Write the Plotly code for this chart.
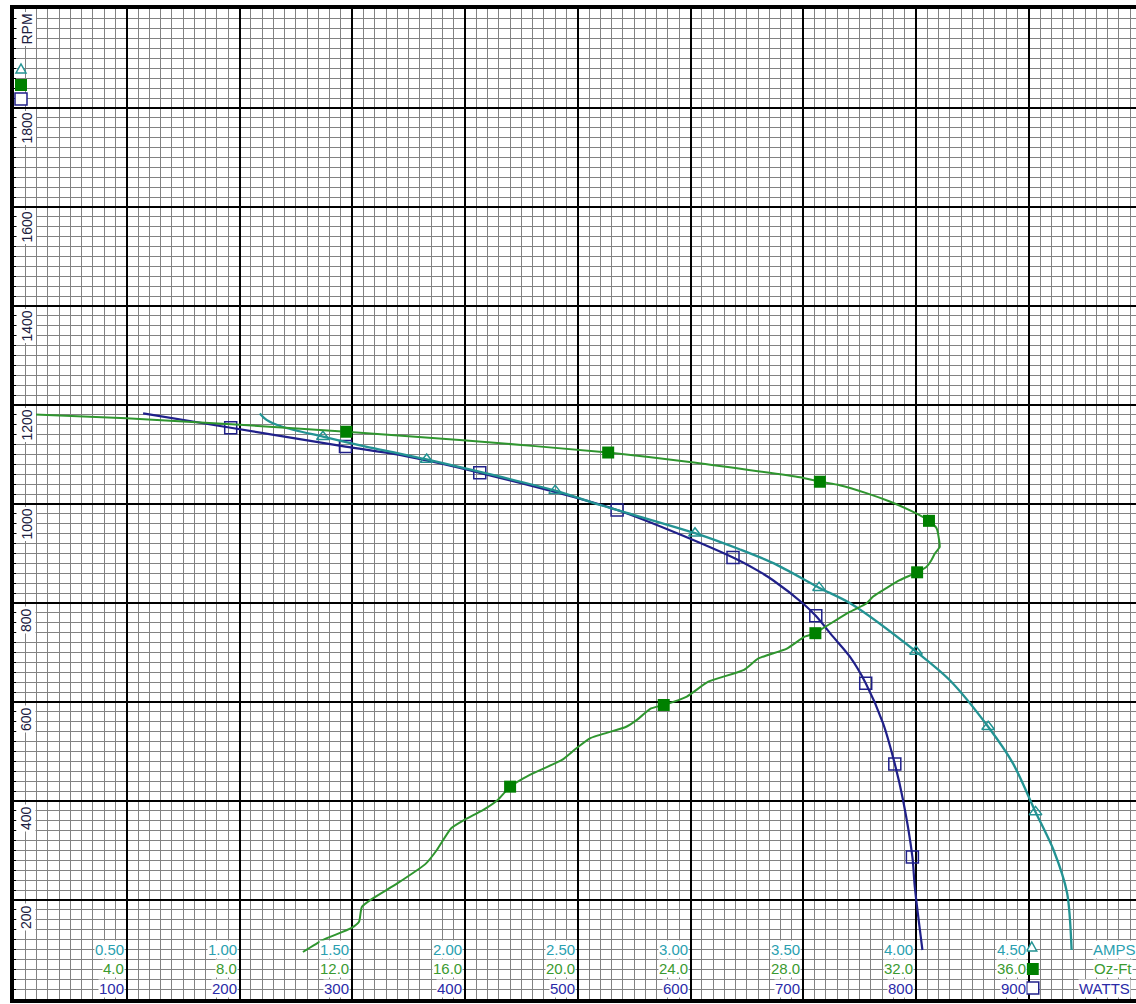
import plotly.graph_objects as go

# ---------------- tick labels ----------------
rpm_tick_vals = [2000, 1800, 1600, 1400, 1200, 1000, 800, 600, 400, 200]
rpm_tick_text = ["RPM", "1800", "1600", "1400", "1200", "1000", "800", "600", "400", "200"]

amps_tick_vals = [0.5, 1.0, 1.5, 2.0, 2.5, 3.0, 3.5, 4.0, 4.5]
amps_tick_text = ["0.50", "1.00", "1.50", "2.00", "2.50", "3.00", "3.50", "4.00", "4.50"]

ozft_tick_vals = [4, 8, 12, 16, 20, 24, 28, 32, 36]
ozft_tick_text = ["4.0", "8.0", "12.0", "16.0", "20.0", "24.0", "28.0", "32.0", "36.0"]

watts_tick_vals = [100, 200, 300, 400, 500, 600, 700, 800, 900]
watts_tick_text = ["100", "200", "300", "400", "500", "600", "700", "800", "900"]

series_names = ["AMPS", "Oz-Ft", "WATTS"]

# ---------------- Oz-Ft (torque) curve ----------------
ozft_curve_val = [0.74, 3.99, 8.01, 11.79, 15.93, 21.08, 23.97, 27.88, 28.59, 29.29, 30.24, 31.07,
                  31.90, 32.46, 32.73, 32.82, 32.84, 32.67, 32.55, 32.37, 32.04, 31.42, 30.95, 30.48,
                  30.24, 29.65, 29.18, 28.70, 28.43, 28.05, 27.42, 26.41, 25.90, 24.63, 23.87, 23.05,
                  22.60, 22.10, 21.72, 20.45, 19.94, 19.44, 18.30, 17.60, 17.16, 16.65, 15.98, 15.51,
                  15.00, 14.62, 13.61, 12.72, 12.34, 12.24, 11.96, 10.95, 10.25]
ozft_curve_rpm = [1181, 1173, 1160, 1146, 1129, 1104, 1085, 1054, 1045, 1038, 1022, 1005,
                  984, 966, 951, 927, 913, 900, 887, 873, 862, 846, 830, 813,
                  799, 782, 766, 749, 739, 732, 708, 688, 665, 641, 611, 594,
                  587, 564, 550, 527, 506, 483, 453, 429, 402, 382, 362, 345,
                  301, 274, 234, 203, 186, 156, 143, 119, 95]
ozft_mark_val = [11.79, 21.08, 28.59, 32.46, 32.04, 28.43, 23.05, 17.60]
ozft_mark_rpm = [1146, 1104, 1045, 966, 862, 739, 594, 429]

# ---------------- AMPS curve ----------------
amps_curve_val = [1.09, 1.12, 1.19, 1.37, 1.56, 1.71, 1.83, 2.40, 2.60, 3.02, 3.22, 3.37,
                  3.57, 3.71, 4.00, 4.15, 4.32, 4.43, 4.53, 4.61, 4.67, 4.69]
amps_curve_rpm = [1183, 1170, 1156, 1136, 1116, 1102, 1090, 1027, 998, 941, 908, 880,
                  831, 799, 702, 644, 550, 476, 378, 301, 214, 99]
amps_mark_val = [1.37, 1.83, 2.40, 3.02, 3.57, 4.00, 4.32, 4.53]
amps_mark_rpm = [1136, 1090, 1027, 941, 831, 702, 550, 378]

# ---------------- WATTS curve ----------------
watts_curve_val = [114.5, 192.2, 294.0, 342.1, 413.1, 534.9, 637.7, 658.5, 673.2, 699.8, 711.1,
                   726.4, 741.2, 755.4, 770.8, 781.2, 788.5, 796.8, 798.9, 805.7]
watts_curve_rpm = [1183, 1154, 1116, 1099, 1063, 988, 892, 867, 846, 799, 774,
                   732, 692, 638, 557, 475, 402, 287, 227, 99]
watts_mark_val = [192.2, 294.0, 413.1, 534.9, 637.7, 711.1, 755.4, 781.2, 796.8]
watts_mark_rpm = [1154, 1116, 1063, 988, 892, 774, 638, 475, 287]

# ---------------- styling ----------------
FONT = "Liberation Sans, Arial, Helvetica, sans-serif"
C_AMPS_LINE = "#239393"
C_OZ_LINE = "#2f962f"
C_OZ_MARK = "#008000"
C_W_LINE = "#20208a"
C_AMPS_TXT = "#2a9fb0"
C_OZ_TXT = "#3a9a30"
C_W_TXT = "#2a2aa8"
C_RPM_TXT = "#202040"
C_MINOR = "#828282"

W_MAX = 995.12          # watts axis range shown (plot cut at right edge)
A_MAX = W_MAX / 200.0   # amps axis: 0.5 A per 100 W division
O_MAX = W_MAX / 25.0    # oz-ft axis: 4 oz-ft per 100 W division

fig = go.Figure()

fig.add_trace(go.Scatter(x=ozft_curve_val, y=ozft_curve_rpm, xaxis="x3", yaxis="y", mode="lines",
                         line=dict(color=C_OZ_LINE, width=2, shape="spline", smoothing=0.5),
                         showlegend=False, hoverinfo="skip"))
fig.add_trace(go.Scatter(x=amps_curve_val, y=amps_curve_rpm, xaxis="x2", yaxis="y", mode="lines",
                         line=dict(color=C_AMPS_LINE, width=2.3, shape="spline", smoothing=0.8),
                         showlegend=False, hoverinfo="skip"))
fig.add_trace(go.Scatter(x=watts_curve_val, y=watts_curve_rpm, xaxis="x", yaxis="y", mode="lines",
                         line=dict(color=C_W_LINE, width=2.2, shape="spline", smoothing=0.8),
                         showlegend=False, hoverinfo="skip"))

fig.add_trace(go.Scatter(x=ozft_mark_val, y=ozft_mark_rpm, xaxis="x3", yaxis="y", mode="markers",
                         marker=dict(symbol="square", size=12, color=C_OZ_MARK, line=dict(width=0)),
                         name="Oz-Ft", showlegend=False))
fig.add_trace(go.Scatter(x=amps_mark_val, y=amps_mark_rpm, xaxis="x2", yaxis="y", mode="markers",
                         marker=dict(symbol="triangle-up-open", size=11, color=C_AMPS_LINE,
                                     line=dict(width=1.5, color=C_AMPS_LINE)),
                         name="AMPS", showlegend=False))
fig.add_trace(go.Scatter(x=watts_mark_val, y=watts_mark_rpm, xaxis="x", yaxis="y", mode="markers",
                         marker=dict(symbol="square-open", size=12, color=C_W_LINE,
                                     line=dict(width=1.5, color=C_W_LINE)),
                         name="WATTS", showlegend=False))

annotations = []
# RPM labels (rotated, inside the plot, below each major line)
for v, t in zip(rpm_tick_vals, rpm_tick_text):
    annotations.append(dict(x=0, xref="x", y=v, yref="y", text=t, textangle=-90, showarrow=False,
                            xanchor="left", yanchor="top", xshift=2, yshift=-3,
                            bgcolor="white", borderpad=1,
                            font=dict(family=FONT, size=14, color=C_RPM_TXT)))

rows = [
    ("x2", amps_tick_vals, amps_tick_text, C_AMPS_TXT, 50),
    ("x3", ozft_tick_vals, ozft_tick_text, C_OZ_TXT, 31),
    ("x", watts_tick_vals, watts_tick_text, C_W_TXT, 11),
]
for xref, vals, texts, col, ysh in rows:
    for v, t in zip(vals, texts):
        annotations.append(dict(x=v, xref=xref, y=0, yref="y", text=t, showarrow=False,
                                xanchor="right", yanchor="middle", xshift=-2, yshift=ysh,
                                bgcolor="white", borderpad=0,
                                font=dict(family=FONT, size=15, color=col)))

for name, col, ysh, xs in zip(series_names, [C_AMPS_TXT, C_OZ_TXT, C_W_TXT], [50, 31, 11], [1, -3, -5]):
    annotations.append(dict(x=1, xref="paper", y=0, yref="y", text=name, showarrow=False,
                            xanchor="right", yanchor="middle", xshift=xs, yshift=ysh,
                            bgcolor="white", borderpad=0,
                            font=dict(family=FONT, size=15, color=col)))

# legend key symbols (top-left and bottom-right)
def tri(xa, ya, dx, dy, col):
    return dict(type="path", xref="x", yref="y", xsizemode="pixel", ysizemode="pixel",
                xanchor=xa, yanchor=ya,
                path=f"M {dx-5},{dy-4} L {dx+5},{dy-4} L {dx},{dy+5} Z",
                line=dict(color=col, width=1.5), fillcolor="white", layer="above")

def sq(xa, ya, dx, dy, col, filled):
    return dict(type="rect", xref="x", yref="y", xsizemode="pixel", ysizemode="pixel",
                xanchor=xa, yanchor=ya, x0=dx - 6, x1=dx + 6, y0=dy - 6, y1=dy + 6,
                line=dict(color=col, width=0 if filled else 1.5),
                fillcolor=col if filled else "white", layer="above")

shapes = [
    tri(0, 2000, 7, -60, C_AMPS_LINE),
    sq(0, 2000, 7, -76, C_OZ_MARK, True),
    sq(0, 2000, 7, -90, C_W_LINE, False),
    tri(900, 0, 3, 52, C_AMPS_LINE),
    sq(900, 0, 4, 30, C_OZ_MARK, True),
    sq(900, 0, 4, 11, C_W_LINE, False),
]

axis_common = dict(showticklabels=False, zeroline=False)

fig.update_layout(
    width=1136, height=1004,
    margin=dict(l=14, r=0, t=9, b=5, pad=0),
    paper_bgcolor="white", plot_bgcolor="white",
    showlegend=False,
    xaxis=dict(range=[0, W_MAX], dtick=100, tick0=0, showgrid=True, gridcolor="black", gridwidth=2,
               minor=dict(dtick=10, showgrid=True, gridcolor=C_MINOR, gridwidth=1),
               showline=True, linecolor="black", linewidth=4, mirror=True, ticks="",
               **axis_common),
    xaxis2=dict(range=[0, A_MAX], overlaying="x", anchor="y", visible=False),
    xaxis3=dict(range=[0, O_MAX], overlaying="x", anchor="y", visible=False),
    yaxis=dict(range=[0, 2000], dtick=200, tick0=0, showgrid=True, gridcolor="black", gridwidth=2,
               minor=dict(dtick=20, showgrid=True, gridcolor=C_MINOR, gridwidth=1,
                          ticks="inside", ticklen=2, tickcolor="black"),
               showline=True, linecolor="black", linewidth=4, mirror=False,
               ticks="inside", ticklen=3, tickcolor="black",
               **axis_common),
    annotations=annotations,
    shapes=shapes,
    font=dict(family=FONT),
)

fig.write_html("out.html", config={"displayModeBar": False},
               post_script="document.body.style.margin='0';document.body.style.overflow='hidden';")
